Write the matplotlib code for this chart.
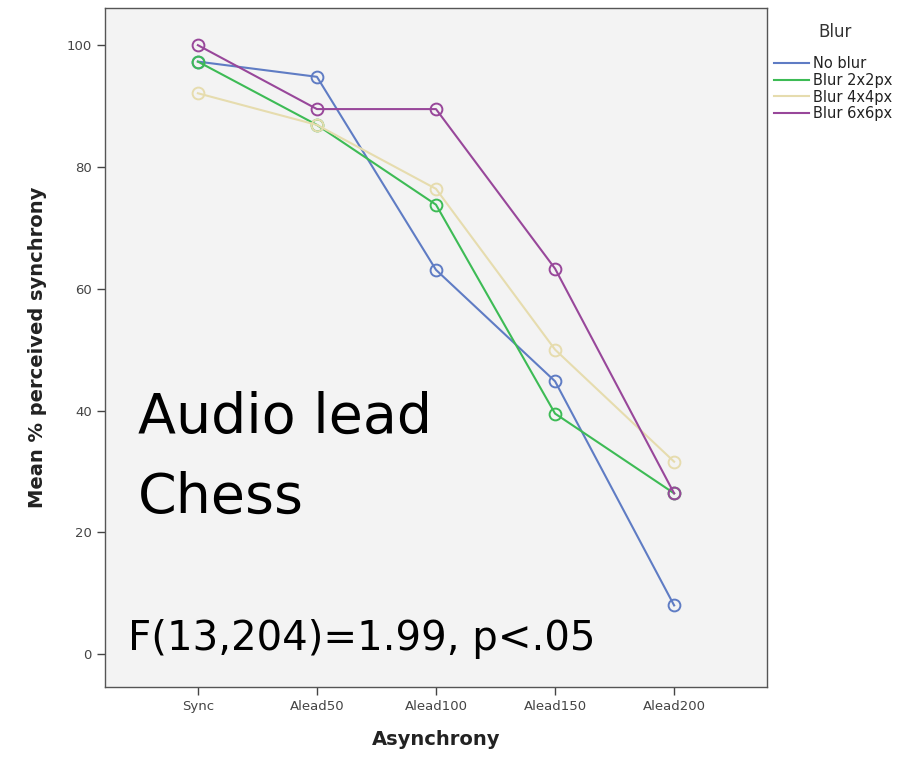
import numpy as np
from matplotlib import pyplot as plt
import matplotlib as mpl

mpl.rcParams['font.family'] = 'DejaVu Sans'

categories = ['Sync', 'Alead50', 'Alead100', 'Alead150', 'Alead200']
no_blur = [97.3, 94.8, 63.1, 44.8, 8.0]
blur_2x2 = [97.3, 86.9, 73.8, 39.5, 26.4]
blur_4x4 = [92.1, 86.9, 76.4, 50.0, 31.6]
blur_6x6 = [100.0, 89.5, 89.5, 63.3, 26.4]
series_names = ['No blur', 'Blur 2x2px', 'Blur 4x4px', 'Blur 6x6px']
colors = ['#5f7cc4', '#3dbb55', '#e6dcae', '#98479a']

fig = plt.figure(figsize=(9.19, 7.63), dpi=100)
ax = fig.add_axes([105/919, 1-687/763, (767-105)/919, (687-8)/763])
ax.set_facecolor('#f3f3f3')

x = np.arange(len(categories))
for vals, name, c in zip([no_blur, blur_2x2, blur_4x4, blur_6x6], series_names, colors):
    ax.plot(x, vals, color=c, linewidth=1.5, label=name,
            marker='o', markersize=8.5, markerfacecolor='none', markeredgecolor=c, markeredgewidth=1.4)

ax.set_xlim(-0.78, 4.78)
ax.set_ylim(-5.4, 106.1)
ax.set_xticks(x)
ax.set_xticklabels(categories)
ax.set_yticks([0, 20, 40, 60, 80, 100])
ax.tick_params(labelsize=9.5, colors='#444444', length=6, width=1)
for s in ax.spines.values():
    s.set_color('#555555')
    s.set_linewidth(1.0)

ax.set_xlabel('Asynchrony', fontsize=14, fontweight='bold', color='#222222', labelpad=12)
ax.set_ylabel('Mean % perceived synchrony', fontsize=14, fontweight='bold', color='#222222', labelpad=14)

# annotation text as placed on the original figure
fig.text(138/919, 1-433/763, 'Audio lead', fontsize=40, color='black', va='baseline', ha='left')
fig.text(138/919, 1-513/763, 'Chess', fontsize=40, color='black', va='baseline', ha='left')
fig.text(128/919, 1-650/763, 'F(13,204)=1.99, p<.05', fontsize=29, color='black', va='baseline', ha='left')

# legend title sits apart from the entries
fig.text(835/919, 1-32/763, 'Blur', fontsize=12, color='#333333', ha='center', va='center')
leg = ax.legend(loc='upper left', bbox_to_anchor=(1.0, 0.94), frameon=False,
                fontsize=10.5, handlelength=2.4, handletextpad=0.25,
                labelspacing=0.12, borderaxespad=0.1)
for h in leg.legend_handles:
    h.set_marker('')
    h.set_linewidth(1.5)
for t in leg.get_texts():
    t.set_color('#222222')

fig.savefig('out.png', dpi=100)
